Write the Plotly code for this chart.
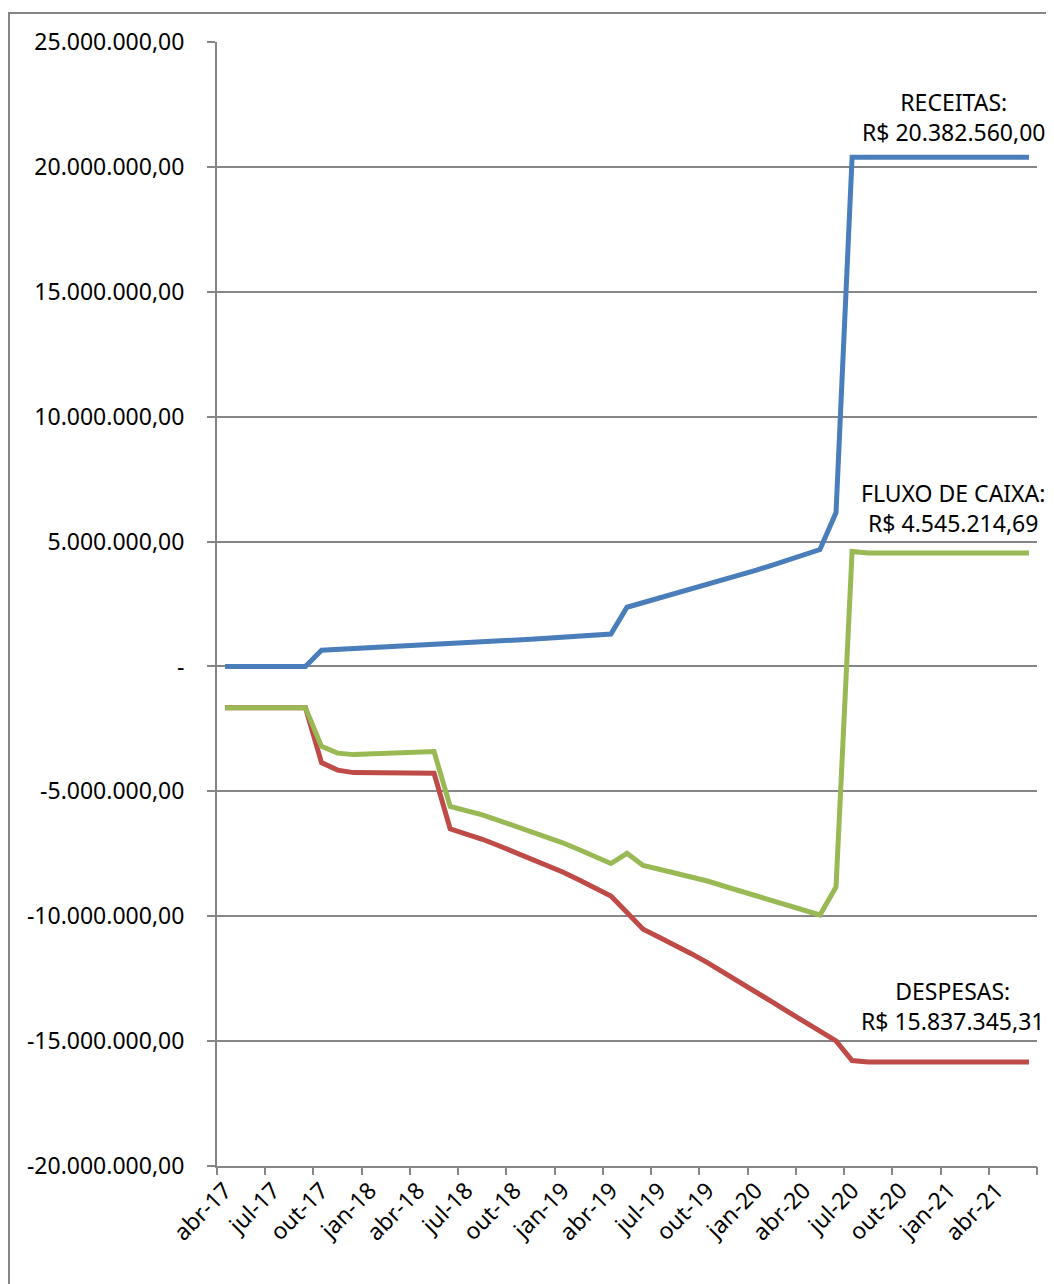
import plotly.graph_objects as go

months = [
    "abr-17", "mai-17", "jun-17", "jul-17", "ago-17", "set-17", "out-17", "nov-17", "dez-17",
    "jan-18", "fev-18", "mar-18", "abr-18", "mai-18", "jun-18", "jul-18", "ago-18", "set-18",
    "out-18", "nov-18", "dez-18", "jan-19", "fev-19", "mar-19", "abr-19", "mai-19", "jun-19",
    "jul-19", "ago-19", "set-19", "out-19", "nov-19", "dez-19", "jan-20", "fev-20", "mar-20",
    "abr-20", "mai-20", "jun-20", "jul-20", "ago-20", "set-20", "out-20", "nov-20", "dez-20",
    "jan-21", "fev-21", "mar-21", "abr-21", "mai-21", "jun-21",
]

receitas = [
    0, 0, 0, 0, 0, 0, 650000, 680000, 720000,
    750000, 780000, 810000, 840000, 870000, 900000, 940000, 980000, 1010000,
    1050000, 1090000, 1130000, 1170000, 1210000, 1250000, 1300000, 2370000, 2550000,
    2720000, 2900000, 3080000, 3270000, 3450000, 3640000, 3850000, 4050000, 4250000,
    4450000, 4680000, 6160000, 20382560, 20382560, 20382560, 20382560, 20382560, 20382560,
    20382560, 20382560, 20382560, 20382560, 20382560, 20382560,
]

despesas = [
    -1650000, -1650000, -1650000, -1650000, -1650000, -1650000, -3850000, -4150000, -4250000,
    -4250000, -4260000, -4270000, -4270000, -4280000, -6500000, -6700000, -6920000, -7170000,
    -7430000, -7700000, -7960000, -8230000, -8540000, -8860000, -9190000, -9850000, -10520000,
    -10840000, -11160000, -11500000, -11860000, -12240000, -12620000, -13000000, -13420000, -13820000,
    -14220000, -14630000, -14990000, -15780000, -15837345.31, -15837345.31, -15837345.31, -15837345.31, -15837345.31,
    -15837345.31, -15837345.31, -15837345.31, -15837345.31, -15837345.31, -15837345.31,
]

fluxo = [
    -1650000, -1650000, -1650000, -1650000, -1650000, -1650000, -3200000, -3470000, -3530000,
    -3500000, -3480000, -3460000, -3430000, -3410000, -5600000, -5760000, -5940000, -6160000,
    -6380000, -6610000, -6830000, -7060000, -7330000, -7610000, -7890000, -7480000, -7970000,
    -8120000, -8260000, -8420000, -8590000, -8790000, -8980000, -9150000, -9370000, -9570000,
    -9770000, -9950000, -8830000, 4600000, 4545214.69, 4545214.69, 4545214.69, 4545214.69, 4545214.69,
    4545214.69, 4545214.69, 4545214.69, 4545214.69, 4545214.69, 4545214.69,
]

y_ticks = [-20000000, -15000000, -10000000, -5000000, 0, 5000000, 10000000, 15000000, 20000000, 25000000]
y_labels = ["-20.000.000,00", "-15.000.000,00", "-10.000.000,00", "-5.000.000,00", "-",
            "5.000.000,00", "10.000.000,00", "15.000.000,00", "20.000.000,00", "25.000.000,00"]

label_months = months[::3]
boundary_ticks = [i - 0.5 for i in range(0, len(months) + 1, 3)]

series_labels = [
    ("RECEITAS:<br>R$ 20.382.560,00", 45.35, 22000000),
    ("FLUXO DE CAIXA:<br>R$ 4.545.214,69", 45.3, 6350000),
    ("DESPESAS:<br>R$ 15.837.345,31", 45.3, -13600000),
]

BLUE = "#4A7EBB"
RED = "#BE4B48"
GREEN = "#98B954"
GRID = "#868686"
FONT = "Noto Sans"
FS = 23

# page body has an 8px margin; figure is sized so the plot area lands at
# x 217..1037 and y 42..1166 in the 1054x1284 window
W, H = 1046, 1276
ML, MR, MT, MB = 209, 17, 34, 118
PW, PH = W - ML - MR, H - MT - MB

fig = go.Figure()
fig.add_trace(go.Scatter(x=months, y=despesas, mode="lines", line=dict(color=RED, width=5),
                         name="Despesas"))
fig.add_trace(go.Scatter(x=months, y=fluxo, mode="lines", line=dict(color=GREEN, width=5),
                         name="Fluxo de caixa"))
fig.add_trace(go.Scatter(x=months, y=receitas, mode="lines", line=dict(color=BLUE, width=5),
                         name="Receitas"))

for text, xi, yv in series_labels:
    fig.add_annotation(x=xi, y=yv, xref="x", yref="y", text=text, showarrow=False,
                       font=dict(family=FONT, size=FS, color="#000000"), align="center")

# outer chart border (svg coords: left 1, top 5, extends past right/bottom)
fig.add_shape(type="rect", xref="paper", yref="paper",
              x0=(1 - ML) / PW, x1=(W + 20 - ML) / PW,
              y0=(H - MB - (H + 20)) / PH, y1=(H - MB - 5) / PH,
              line=dict(color=GRID, width=2), fillcolor="rgba(0,0,0,0)", layer="below")

fig.update_layout(
    width=W, height=H,
    margin=dict(l=ML, r=MR, t=MT, b=MB),
    plot_bgcolor="white", paper_bgcolor="white",
    showlegend=False,
    font=dict(family=FONT, size=FS, color="#000000"),
    xaxis=dict(
        type="category", categoryorder="array", categoryarray=months,
        range=[-0.5, len(months) - 0.5],
        tickmode="array", tickvals=label_months, ticktext=label_months,
        tickangle=-45, ticks="", showgrid=False, zeroline=False,
        showline=True, linecolor=GRID, linewidth=2,
        tickfont=dict(family=FONT, size=FS, color="#000000"),
    ),
    xaxis2=dict(
        overlaying="x", side="bottom", type="linear",
        range=[-0.5, len(months) - 0.5],
        tickmode="array", tickvals=boundary_ticks, showticklabels=False,
        ticks="outside", ticklen=8, tickwidth=2, tickcolor=GRID,
        showgrid=False, zeroline=False, showline=False,
    ),
    yaxis=dict(
        range=[-20000000, 25000000],
        tickmode="array", tickvals=y_ticks, ticktext=y_labels,
        ticks="outside", ticklen=8, tickwidth=2, tickcolor=GRID,
        showgrid=True, gridcolor=GRID, gridwidth=2, zeroline=False,
        showline=True, linecolor=GRID, linewidth=2,
        ticklabelstandoff=18,
        tickfont=dict(family=FONT, size=FS, color="#000000"),
    ),
)

fig.add_trace(go.Scatter(x=[-0.5, len(months) - 0.5], y=[None, None], xaxis="x2", yaxis="y",
                         mode="lines", showlegend=False, hoverinfo="skip"))

fig.write_html("out.html")
